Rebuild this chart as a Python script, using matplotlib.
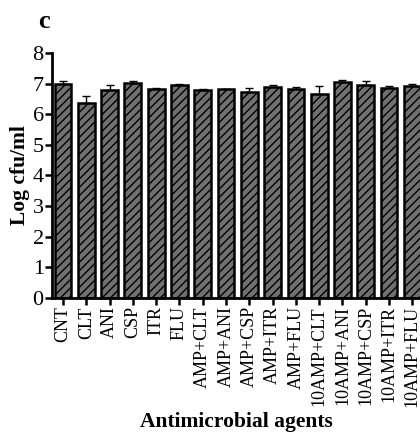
import matplotlib
matplotlib.use("Agg")
import matplotlib.pyplot as plt
import numpy as np

categories = ["CNT", "CLT", "ANI", "CSP", "ITR", "FLU",
              "AMP+CLT", "AMP+ANI", "AMP+CSP", "AMP+ITR", "AMP+FLU",
              "10AMP+CLT", "10AMP+ANI", "10AMP+CSP", "10AMP+ITR", "10AMP+FLU"]
values = [7.00, 6.38, 6.80, 7.02, 6.83, 6.95,
          6.78, 6.81, 6.73, 6.90, 6.84,
          6.66, 7.05, 6.96, 6.86, 6.92]
errors = [0.10, 0.20, 0.17, 0.08, 0.03, 0.04,
          0.05, 0.02, 0.12, 0.07, 0.05,
          0.25, 0.06, 0.12, 0.05, 0.08]
yticks = [0, 1, 2, 3, 4, 5, 6, 7, 8]

plt.rcParams['font.family'] = ['Liberation Serif', 'DejaVu Serif']
plt.rcParams['hatch.linewidth'] = 1.0
plt.rcParams['hatch.color'] = 'black'

fig = plt.figure(figsize=(4.2, 4.38), dpi=100)
ax = fig.add_axes([0.124, 0.32, 0.876, 0.559])

x = np.arange(len(categories))
ax.bar(x, values, width=0.72, color='#707070', edgecolor='black',
       linewidth=1.8, hatch='////', zorder=2)
ax.errorbar(x, values, yerr=[np.zeros(len(errors)), errors], fmt='none',
            ecolor='black', elinewidth=1.0, capsize=3, capthick=1.0, zorder=1)

ax.set_xlim(-0.47, 15.33)
ax.set_ylim(0, 8)
ax.set_yticks(yticks)
ax.set_yticklabels([str(t) for t in yticks], fontsize=16)
ax.set_xticks(x)
ax.set_xticklabels(categories, rotation=90, fontsize=13)
ax.tick_params(axis='both', width=1.8, length=5, pad=1, direction='out')

for s in ['top', 'right']:
    ax.spines[s].set_visible(False)
for s in ['left', 'bottom']:
    ax.spines[s].set_linewidth(2.0)

ax.set_ylabel("Log cfu/ml", fontsize=15.5, fontweight='bold', va='center')
ax.yaxis.set_label_coords(-0.087, 0.5)
ax.set_xlabel("Antimicrobial agents", fontsize=15.5, fontweight='bold', va='center')
ax.xaxis.set_label_coords(0.5, -0.506)

fig.text(0.09, 0.952, "c", fontsize=19, fontweight='bold', va='center')

fig.savefig("out.png", dpi=100)
